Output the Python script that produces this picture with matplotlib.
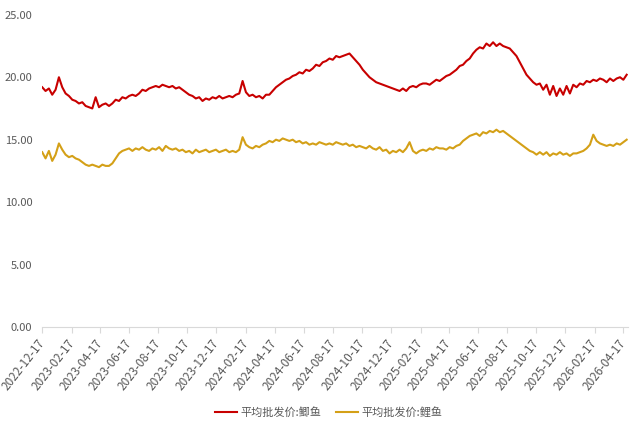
import matplotlib
matplotlib.use('Agg')
import matplotlib.pyplot as plt
import matplotlib.dates as mdates
import numpy as np, pandas as pd

plt.rcParams['font.family'] = ['Noto Sans CJK SC', 'DejaVu Sans']

# weekly readings, starting 2022-12-17
start = '2022-12-17'
crucian = [19.2, 18.9, 19.1, 18.6, 19.0, 20.0, 19.2, 18.7, 18.5, 18.2,
           18.1, 17.9, 18.0, 17.7, 17.6, 17.5, 18.4, 17.6, 17.8, 17.9,
           17.7, 17.9, 18.2, 18.1, 18.4, 18.3, 18.5, 18.6, 18.5, 18.7,
           19.0, 18.9, 19.1, 19.2, 19.3, 19.2, 19.4, 19.3, 19.2, 19.3,
           19.1, 19.2, 19.0, 18.8, 18.6, 18.5, 18.3, 18.4, 18.1, 18.3,
           18.2, 18.4, 18.3, 18.5, 18.3, 18.4, 18.5, 18.4, 18.6, 18.7,
           19.7, 18.8, 18.5, 18.6, 18.4, 18.5, 18.3, 18.6, 18.6, 18.9,
           19.2, 19.4, 19.6, 19.8, 19.9, 20.1, 20.2, 20.4, 20.3, 20.6,
           20.5, 20.7, 21.0, 20.9, 21.2, 21.3, 21.5, 21.4, 21.7, 21.6,
           21.7, 21.8, 21.9, 21.6, 21.3, 21.0, 20.6, 20.3, 20.0, 19.8,
           19.6, 19.5, 19.4, 19.3, 19.2, 19.1, 19.0, 18.9, 19.1, 18.9,
           19.2, 19.3, 19.2, 19.4, 19.5, 19.5, 19.4, 19.6, 19.8, 19.7,
           19.9, 20.1, 20.2, 20.4, 20.6, 20.9, 21.0, 21.3, 21.5, 21.9,
           22.2, 22.4, 22.3, 22.7, 22.5, 22.8, 22.5, 22.7, 22.5, 22.4,
           22.3, 22.0, 21.7, 21.2, 20.7, 20.2, 19.9, 19.6, 19.4, 19.5,
           19.0, 19.4, 18.6, 19.3, 18.5, 19.1, 18.6, 19.3, 18.7, 19.4,
           19.2, 19.5, 19.4, 19.7, 19.6, 19.8, 19.7, 19.9, 19.8, 19.6,
           19.9, 19.7, 19.9, 20.0, 19.8, 20.2]
carp = [14.0, 13.5, 14.1, 13.3, 13.8, 14.7, 14.2, 13.8, 13.6, 13.7,
        13.5, 13.4, 13.2, 13.0, 12.9, 13.0, 12.9, 12.8, 13.0, 12.9,
        12.9, 13.1, 13.5, 13.9, 14.1, 14.2, 14.3, 14.1, 14.3, 14.2,
        14.4, 14.2, 14.1, 14.3, 14.2, 14.4, 14.1, 14.5, 14.3, 14.2,
        14.3, 14.1, 14.2, 14.0, 14.1, 13.9, 14.2, 14.0, 14.1, 14.2,
        14.0, 14.1, 14.2, 14.0, 14.1, 14.2, 14.0, 14.1, 14.0, 14.2,
        15.2, 14.6, 14.4, 14.3, 14.5, 14.4, 14.6, 14.7, 14.9, 14.8,
        15.0, 14.9, 15.1, 15.0, 14.9, 15.0, 14.8, 14.9, 14.7, 14.8,
        14.6, 14.7, 14.6, 14.8, 14.7, 14.6, 14.7, 14.6, 14.8, 14.7,
        14.6, 14.7, 14.5, 14.6, 14.4, 14.5, 14.4, 14.3, 14.5, 14.3,
        14.2, 14.4, 14.1, 14.2, 13.9, 14.1, 14.0, 14.2, 14.0, 14.3,
        14.8, 14.1, 13.9, 14.1, 14.2, 14.1, 14.3, 14.2, 14.4, 14.3,
        14.3, 14.2, 14.4, 14.3, 14.5, 14.6, 14.9, 15.1, 15.3, 15.4,
        15.5, 15.3, 15.6, 15.5, 15.7, 15.6, 15.8, 15.6, 15.7, 15.5,
        15.3, 15.1, 14.9, 14.7, 14.5, 14.3, 14.1, 14.0, 13.8, 14.0,
        13.8, 14.0, 13.7, 13.9, 13.8, 14.0, 13.8, 13.9, 13.7, 13.9,
        13.9, 14.0, 14.1, 14.3, 14.6, 15.4, 14.9, 14.7, 14.6, 14.5,
        14.6, 14.5, 14.7, 14.6, 14.8, 15.0]
labels = ['平均批发价:鲫鱼', '平均批发价:鲤鱼']
yticks = [0, 5, 10, 15, 20, 25]

dates = pd.date_range(start, periods=len(crucian), freq='7D')
tick_dates = pd.date_range('2022-12-17', '2026-04-17', freq=pd.DateOffset(months=2))

fig = plt.figure(figsize=(6.3, 4.23), dpi=100)
ax = fig.add_axes([0.067, 0.227, 0.93, 0.738])

ax.plot(dates, crucian, color='#C80000', lw=1.5, label=labels[0])
ax.plot(dates, carp, color='#D4A017', lw=1.5, label=labels[1])

ax.set_ylim(0, 25)
ax.set_xlim(pd.Timestamp(start), pd.Timestamp('2026-04-28'))
ax.set_yticks(yticks)
ax.set_yticklabels([f'{v:.2f}' for v in yticks])
ax.set_xticks(tick_dates)
ax.set_xticklabels([d.strftime('%Y-%m-%d') for d in tick_dates],
                   rotation=52, ha='right', va='center', rotation_mode='anchor')

for s in ['top', 'right', 'left']:
    ax.spines[s].set_visible(False)
ax.spines['bottom'].set_color('#D9D9D9')
ax.tick_params(axis='y', length=0, labelsize=8, labelcolor='#595959', pad=7)
ax.tick_params(axis='x', length=4, color='#D9D9D9', labelsize=8.5,
               labelcolor='#595959', pad=6)

fig.legend(loc='lower center', bbox_to_anchor=(0.522, -0.012), ncol=2,
           frameon=False, fontsize=8, labelcolor='#595959',
           handlelength=2.0, handletextpad=0.3, columnspacing=1.3)

fig.savefig('out.png', dpi=100)
